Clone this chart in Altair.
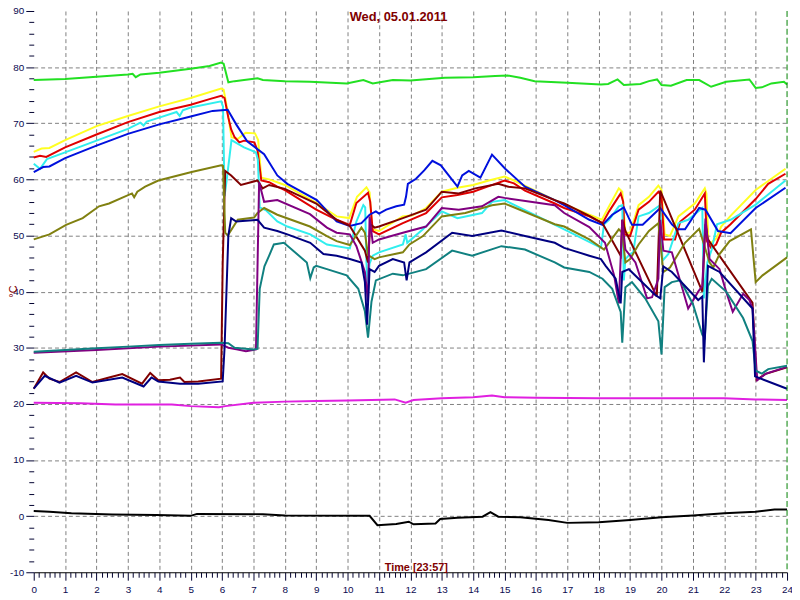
import altair as alt
import pandas as pd

# ---------------- data (hours, °C) ----------------
GREEN_T = [0, 1, 2, 3, 3.15, 3.25, 3.4, 4, 5, 5.6, 5.97, 6.05, 6.2, 6.4, 6.7, 7.13, 7.3, 8, 8.8, 9.97, 10.5, 10.8, 11.44, 12, 13.1, 14, 14.7, 15.1, 15.5, 15.96, 17, 18.07, 18.3, 18.6, 18.8, 19.33, 19.6, 19.86, 20.0, 20.3, 20.8, 21.2, 21.58, 22.06, 22.8, 23.0, 23.2, 23.5, 23.9, 24]
GREEN_V = [77.7, 77.9, 78.3, 78.7, 78.8, 78.2, 78.7, 79.0, 79.7, 80.2, 80.8, 80.6, 77.3, 77.5, 77.7, 78.0, 77.7, 77.5, 77.4, 77.1, 77.7, 77.1, 77.7, 77.6, 78.1, 78.2, 78.4, 78.5, 78.1, 77.5, 77.2, 76.9, 77.0, 77.8, 76.8, 77.0, 77.5, 77.8, 76.8, 76.7, 77.7, 77.7, 76.5, 77.4, 77.8, 76.3, 76.4, 77.1, 77.4, 76.9]

YELLOW_T = [0, 0.25, 0.5, 1, 2, 3, 4, 5, 5.97, 6.05, 6.15, 6.3, 6.5, 6.75, 7.05, 7.15, 7.25, 7.5, 8, 9, 9.65, 10.05, 10.3, 10.6, 10.7, 10.78, 11.0, 11.75, 12.07, 12.5, 13.0, 13.5, 14.0, 14.5, 15.0, 15.3, 16.6, 17.7, 18.1, 18.33, 18.64, 18.75, 18.85, 19.0, 19.27, 19.6, 19.9, 20.0, 20.1, 20.27, 20.54, 21.06, 21.38, 21.43, 21.5, 21.75, 21.9, 22.2, 23.0, 23.3, 23.95]
YELLOW_V = [64.9, 65.5, 65.6, 67.0, 69.5, 71.3, 73.0, 74.5, 76.2, 76.0, 73.0, 67.5, 67.2, 68.3, 68.2, 67.0, 60.3, 60.0, 59.0, 55.8, 53.4, 53.1, 56.9, 58.6, 57.7, 51.1, 50.8, 53.4, 53.6, 54.9, 57.8, 58.5, 59.0, 59.8, 60.5, 59.8, 56.3, 53.7, 52.8, 55.2, 58.4, 57.8, 50.5, 50.5, 55.4, 56.9, 58.9, 58.1, 50.2, 49.9, 53.4, 55.7, 58.4, 57.5, 48.3, 49.5, 51.6, 53.5, 58.1, 59.3, 61.9]

RED_T = [0, 0.2, 0.4, 1, 2, 3, 4, 5, 5.6, 5.97, 6.08, 6.2, 6.29, 6.4, 6.55, 6.7, 7.03, 7.13, 7.25, 7.5, 7.76, 8.0, 9.0, 9.65, 10.07, 10.28, 10.65, 10.72, 10.8, 11.0, 11.76, 12.5, 13.0, 13.5, 14.0, 14.5, 15.0, 15.3, 15.65, 16.6, 16.9, 17.7, 18.12, 18.33, 18.7, 18.78, 18.82, 19.0, 19.27, 19.6, 19.9, 20.0, 20.08, 20.43, 20.6, 21.06, 21.38, 21.45, 21.58, 21.74, 21.9, 22.2, 23.0, 23.4, 23.95]
RED_V = [63.9, 64.2, 64.0, 65.7, 68.0, 70.2, 72.0, 73.3, 74.3, 74.9, 74.5, 71.0, 68.9, 67.5, 66.6, 66.9, 66.6, 65.1, 59.8, 59.5, 58.7, 58.1, 54.6, 52.8, 51.9, 55.8, 57.6, 56.0, 50.8, 50.2, 52.2, 54.0, 56.8, 57.2, 57.8, 58.8, 59.8, 59.3, 58.0, 55.7, 54.9, 53.4, 52.2, 54.3, 57.5, 56.0, 50.2, 49.9, 54.6, 56.0, 57.8, 57.0, 49.3, 49.3, 52.5, 54.6, 57.5, 49.0, 47.8, 48.4, 50.5, 52.0, 56.5, 59.2, 61.0]

CYAN_T = [0, 0.2, 0.42, 1, 2, 3, 3.4, 3.5, 3.6, 4, 4.55, 4.65, 4.75, 5, 5.97, 6.03, 6.08, 6.15, 6.3, 6.7, 7.08, 7.14, 7.2, 7.4, 7.76, 8.08, 8.81, 9.34, 10.07, 10.28, 10.5, 10.56, 10.6, 10.63, 10.7, 10.8, 11.0, 11.76, 11.85, 11.9, 12.4, 13.0, 13.5, 14.28, 14.6, 15.0, 16.9, 18.07, 18.17, 18.33, 18.64, 18.75, 18.8, 18.85, 19.0, 19.1, 19.27, 19.6, 19.96, 20.03, 20.22, 20.54, 20.85, 21.3, 21.35, 21.46, 21.6, 21.77, 22.2, 23.0, 23.95]
CYAN_V = [62.8, 61.9, 63.6, 64.8, 66.9, 69.0, 70.1, 69.6, 70.3, 71.0, 72.0, 71.3, 72.3, 72.8, 73.9, 73.0, 57.0, 60.0, 67.0, 65.7, 64.8, 63.5, 55.0, 54.5, 52.5, 51.6, 50.2, 48.4, 47.7, 52.5, 55.4, 55.0, 45.2, 41.1, 45.0, 46.4, 47.0, 48.4, 50.2, 48.7, 51.1, 54.3, 53.1, 54.0, 56.0, 56.3, 51.1, 47.8, 52.0, 52.8, 55.2, 55.4, 42.0, 45.8, 46.7, 47.0, 53.4, 54.0, 55.4, 45.5, 46.7, 52.2, 52.8, 54.9, 38.8, 45.2, 47.5, 52.0, 52.8, 55.5, 59.8]

BLUE_T = [0, 0.3, 0.5, 1, 2, 3, 4, 5, 5.7, 6.18, 6.45, 6.8, 7.34, 7.76, 8.08, 9.02, 9.65, 10.07, 10.44, 10.7, 10.9, 11.0, 11.23, 11.55, 11.8, 11.86, 11.92, 12.18, 12.44, 12.7, 12.97, 13.5, 13.65, 13.86, 14.23, 14.6, 15.02, 15.65, 16.6, 16.9, 17.7, 18.12, 18.43, 18.8, 19.06, 19.4, 19.96, 20.33, 20.5, 20.75, 21.2, 21.4, 21.8, 22.2, 23.0, 23.95]
BLUE_V = [61.3, 62.2, 62.3, 63.8, 66.0, 68.1, 69.8, 71.2, 72.2, 72.4, 69.8, 66.8, 64.5, 60.7, 59.2, 56.3, 52.5, 51.7, 52.2, 53.7, 54.3, 53.9, 54.6, 55.2, 55.5, 56.9, 59.2, 60.1, 61.6, 63.3, 62.5, 58.7, 60.7, 61.5, 60.3, 64.4, 61.9, 58.7, 56.3, 55.4, 52.8, 51.9, 53.7, 55.0, 51.9, 51.9, 54.9, 52.0, 51.1, 51.1, 54.9, 54.6, 50.8, 50.4, 54.9, 58.5]

OLIVE_T = [0, 0.5, 1.03, 1.56, 2.08, 2.4, 3.13, 3.2, 3.3, 3.55, 3.97, 5.03, 5.97, 6.03, 6.1, 6.18, 6.5, 7.02, 7.13, 7.34, 7.76, 8.8, 9.34, 9.65, 10.07, 10.44, 10.55, 10.65, 10.86, 11.0, 11.76, 11.97, 12.4, 13.0, 13.75, 14.6, 15.0, 16.6, 16.9, 17.7, 18.17, 18.64, 18.75, 18.85, 19.0, 19.27, 19.6, 19.9, 20.06, 20.27, 20.75, 21.2, 21.53, 21.65, 21.85, 22.17, 22.85, 23.0, 23.22, 24]
OLIVE_V = [49.3, 50.2, 51.9, 53.1, 55.2, 55.7, 57.5, 56.8, 57.8, 58.7, 59.8, 61.3, 62.5, 62.4, 50.5, 50.0, 52.8, 53.2, 54.0, 54.9, 53.7, 51.6, 49.9, 49.0, 48.3, 51.4, 50.5, 46.5, 45.8, 46.1, 47.0, 48.4, 49.9, 53.4, 54.0, 55.4, 55.7, 52.0, 51.6, 49.3, 47.5, 51.1, 50.5, 45.2, 45.8, 48.4, 50.8, 52.2, 43.5, 44.3, 48.7, 51.2, 45.2, 44.3, 46.7, 49.0, 51.1, 41.7, 42.9, 46.1]

MAROON_T = [0, 0.3, 0.5, 0.82, 1.35, 1.87, 2.4, 2.82, 3.45, 3.71, 3.97, 4.34, 4.66, 4.8, 5.24, 5.97, 6.02, 6.1, 6.29, 6.6, 6.92, 7.13, 7.29, 7.5, 8.0, 9.0, 9.65, 10.07, 10.55, 10.65, 10.72, 10.86, 11.0, 11.76, 12.5, 13.0, 13.54, 14.07, 14.8, 15.12, 15.65, 16.6, 16.9, 17.7, 18.12, 18.7, 18.75, 18.85, 19.85, 19.96, 21.3, 21.4, 21.48, 22.9, 23.03, 23.3, 24]
MAROON_V = [22.7, 25.6, 24.5, 23.9, 25.6, 23.9, 24.7, 25.3, 23.6, 25.5, 24.2, 24.3, 24.7, 23.9, 24.0, 24.5, 45.0, 61.5, 60.7, 59.0, 59.5, 59.8, 58.4, 59.0, 58.3, 55.7, 52.8, 51.7, 47.3, 45.2, 52.0, 51.4, 51.6, 53.1, 54.6, 57.8, 57.5, 58.4, 59.2, 58.7, 58.4, 56.3, 55.7, 53.5, 52.2, 46.4, 52.8, 50.8, 39.1, 58.0, 40.0, 52.0, 49.3, 38.0, 24.3, 25.3, 26.5]

PURPLE_T = [0, 2, 4, 5.97, 6.2, 6.5, 6.76, 7.08, 7.18, 7.34, 7.76, 8.8, 9.34, 9.65, 10.07, 10.28, 10.55, 10.65, 10.7, 10.8, 11.0, 11.76, 12.5, 13.0, 13.54, 14.28, 14.8, 15.0, 16.6, 16.9, 17.7, 18.2, 18.49, 18.64, 18.75, 18.85, 19.17, 19.54, 19.7, 19.9, 19.96, 20.06, 20.33, 20.85, 21.17, 21.3, 21.4, 21.53, 21.85, 22.06, 22.27, 22.6, 22.8, 22.9, 23.05, 23.33, 24]
PURPLE_V = [29.1, 29.6, 30.2, 30.6, 30.0, 29.7, 29.4, 29.7, 59.5, 56.0, 56.3, 53.8, 51.4, 50.5, 50.2, 48.1, 43.5, 38.2, 53.4, 48.7, 49.3, 50.5, 51.6, 54.9, 54.6, 55.2, 56.9, 56.7, 55.4, 54.0, 51.5, 48.7, 42.9, 37.9, 52.8, 47.5, 45.2, 38.8, 39.0, 42.3, 52.8, 47.3, 47.0, 37.0, 40.0, 41.0, 53.0, 45.8, 44.0, 40.0, 36.4, 39.6, 38.5, 37.0, 24.2, 25.4, 26.6]

NAVY_T = [0, 0.35, 0.82, 1.35, 1.87, 2.82, 3.5, 3.75, 3.97, 4.66, 5.24, 6.02, 6.08, 6.2, 6.29, 6.45, 7.13, 7.34, 7.76, 8.08, 8.81, 9.23, 9.65, 10.07, 10.44, 10.55, 10.62, 10.7, 10.86, 11.0, 11.44, 11.8, 11.88, 11.97, 12.5, 13.33, 13.97, 14.9, 15.65, 16.6, 16.9, 17.7, 18.07, 18.22, 18.54, 18.7, 18.75, 18.96, 19.27, 19.8, 19.96, 20.06, 20.33, 21.17, 21.3, 21.35, 21.48, 21.85, 22.9, 22.98, 24]
NAVY_V = [22.7, 25.0, 23.8, 25.0, 23.8, 24.7, 23.1, 24.7, 24.0, 23.6, 23.6, 24.0, 30.0, 50.0, 53.1, 52.5, 52.8, 51.4, 50.8, 50.2, 48.7, 46.7, 46.4, 45.8, 45.2, 41.7, 34.1, 44.0, 43.5, 44.6, 45.8, 45.2, 42.0, 45.2, 47.0, 50.5, 49.9, 50.9, 49.9, 48.7, 47.8, 46.4, 45.8, 44.6, 42.3, 37.9, 43.5, 44.0, 42.3, 39.4, 38.8, 44.5, 43.5, 38.5, 39.1, 27.4, 44.6, 43.5, 37.0, 24.9, 22.7]

TEAL_T = [0, 1, 2, 3, 4, 5, 5.97, 6.2, 6.4, 7.0, 7.13, 7.2, 7.35, 7.5, 7.65, 7.97, 8.7, 8.81, 8.92, 9.0, 9.34, 9.97, 10.34, 10.55, 10.65, 10.76, 10.9, 11.44, 11.76, 12.5, 13.33, 13.97, 14.9, 15.65, 16.6, 16.9, 17.7, 18.12, 18.43, 18.7, 18.75, 18.85, 19.06, 19.48, 19.9, 20.0, 20.1, 20.33, 20.6, 21.0, 21.3, 21.38, 21.48, 21.6, 22.06, 22.6, 22.9, 23.0, 23.2, 23.4, 24]
TEAL_V = [29.3, 29.6, 29.9, 30.2, 30.5, 30.7, 30.9, 30.8, 30.0, 29.7, 29.8, 40.5, 44.5, 46.4, 48.4, 48.7, 45.2, 42.4, 44.3, 44.6, 44.0, 42.9, 40.5, 36.5, 31.8, 38.2, 42.0, 43.2, 42.9, 44.0, 47.3, 46.4, 48.1, 47.5, 45.2, 44.3, 43.5, 42.3, 40.5, 36.4, 30.9, 40.8, 41.7, 38.8, 34.7, 28.8, 40.8, 41.7, 42.0, 37.8, 32.3, 31.8, 41.0, 42.3, 40.0, 35.3, 31.2, 25.9, 25.4, 26.2, 26.8]

MAGENTA_T = [0, 1.5, 2.6, 4.4, 5.0, 5.9, 6.1, 7.0, 8.0, 9.0, 10.0, 11.5, 11.85, 12.1, 13, 14, 14.6, 15, 16, 18, 20, 22, 23, 24]
MAGENTA_V = [20.2, 20.1, 19.9, 19.9, 19.6, 19.4, 19.6, 20.2, 20.4, 20.5, 20.6, 20.8, 20.2, 20.7, 21.0, 21.2, 21.5, 21.2, 21.1, 21.0, 21.0, 21.0, 20.8, 20.7]

BLACK_T = [0, 0.5, 1.2, 2.5, 3.9, 5.0, 5.2, 7.3, 8.0, 10.7, 10.95, 11.55, 11.95, 12.1, 12.8, 12.95, 13.5, 14.3, 14.55, 14.8, 15.5, 16.4, 17.0, 18.0, 19.0, 20.0, 21.0, 22.0, 23.0, 23.6, 24.0]
BLACK_V = [0.9, 0.8, 0.5, 0.3, 0.2, 0.05, 0.4, 0.35, 0.1, 0.05, -1.6, -1.4, -1.0, -1.45, -1.3, -0.5, -0.3, -0.1, 0.7, -0.1, -0.2, -0.7, -1.2, -1.1, -0.7, -0.2, 0.1, 0.5, 0.8, 1.2, 1.2]

SERIES = [
    ("green", GREEN_T, GREEN_V, "#22E022"),
    ("yellow", YELLOW_T, YELLOW_V, "#FFFF22"),
    ("red", RED_T, RED_V, "#E00000"),
    ("cyan", CYAN_T, CYAN_V, "#30EEEE"),
    ("blue", BLUE_T, BLUE_V, "#0010DD"),
    ("maroon", MAROON_T, MAROON_V, "#800000"),
    ("olive", OLIVE_T, OLIVE_V, "#808010"),
    ("purple", PURPLE_T, PURPLE_V, "#800080"),
    ("teal", TEAL_T, TEAL_V, "#108080"),
    ("navy", NAVY_T, NAVY_V, "#000080"),
    ("magenta", MAGENTA_T, MAGENTA_V, "#E020E0"),
    ("black", BLACK_T, BLACK_V, "#000000"),
]

X_TICKS = [i / 6 for i in range(0, 145)]
Y_TICKS = list(range(-10, 91, 2))
TITLE = "Wed, 05.01.2011"
X_TITLE = "Time [23:57]"
Y_TITLE = "°C"
END_HOUR = [24]

rows = []
for name, ts, vs, _ in SERIES:
    for i, (t, v) in enumerate(zip(ts, vs)):
        rows.append({"series": name, "h": t, "v": v, "i": i})
df = pd.DataFrame(rows)

LABEL_COLOR = "#0a0a50"
DARKRED = "#800000"
FONT = "Liberation Sans"

x_enc = alt.X(
    "h:Q",
    scale=alt.Scale(domain=[0, 24], nice=False, zero=False),
    axis=alt.Axis(
        values=X_TICKS,
        labelExpr="datum.value % 1 === 0 ? toString(datum.value) : ''",
        labelOverlap=False, labelFlush=False, labelBound=False,
        labelFont=FONT, labelFontSize=10, labelColor=LABEL_COLOR, labelPadding=4,
        tickColor="#000030",
        tickSize={"condition": {"test": "datum.value % 1 === 0", "value": 8}, "value": 5},
        domain=True, domainColor="#000000", domainWidth=1,
        grid=True, gridColor="#808080", gridDash=[4, 3], gridWidth=1,
        gridOpacity={"condition": {"test": "datum.value % 1 === 0 && datum.value > 0 && datum.value < 24", "value": 1}, "value": 0},
        title=X_TITLE, titleFont=FONT, titleFontSize=11, titleFontWeight="bold",
        titleColor=DARKRED, titleX=386, titleY=-2, titleAlign="center",
        titleBaseline="alphabetic",
    ),
)
y_enc = alt.Y(
    "v:Q",
    scale=alt.Scale(domain=[-10, 90], nice=False, zero=False),
    axis=alt.Axis(
        values=Y_TICKS,
        labelExpr="datum.value % 10 === 0 ? toString(datum.value) : ''",
        labelOverlap=False, labelFlush=False, labelBound=False,
        labelFont=FONT, labelFontSize=10, labelColor=LABEL_COLOR, labelPadding=2,
        tickColor="#000030",
        tickSize={"condition": {"test": "datum.value % 10 === 0", "value": 8}, "value": 5},
        domain=False,
        grid=True, gridColor="#808080", gridDash=[4, 3], gridWidth=1,
        gridOpacity={"condition": {"test": "datum.value % 10 === 0 && datum.value > -10 && datum.value < 90", "value": 1}, "value": 0},
        title=Y_TITLE, titleFont=FONT, titleFontSize=11, titleFontWeight="normal",
        titleColor=DARKRED, titleAngle=270, titleX=-20, titleY=283,
        titleAlign="center", titleBaseline="middle",
    ),
)

layers = []
for name, _, _, col in SERIES:
    layers.append(
        alt.Chart(df)
        .transform_filter(alt.datum.series == name)
        .mark_line(color=col, strokeWidth=2)
        .encode(x=x_enc, y=y_enc, order="i:Q")
    )

end_rule = (
    alt.Chart(pd.DataFrame({"h": END_HOUR}))
    .mark_rule(color="#008000", strokeDash=[6, 3], strokeWidth=1)
    .encode(x=x_enc)
)

chart = (
    alt.layer(*layers, end_rule)
    .properties(
        width=761,
        height=567,
        autosize=alt.AutoSizeParams(type="none"),
        padding={"left": 26, "top": 0, "right": 5, "bottom": 25},
        background="white",
        title=alt.TitleParams(
            TITLE, anchor="middle", color=DARKRED, font=FONT, fontSize=13,
            fontWeight="bold", offset=-24, dx=-12, baseline="middle",
        ),
    )
    .configure_view(stroke=None)
)

chart.save("out.html", embed_options={"renderer": "svg", "actions": False})
